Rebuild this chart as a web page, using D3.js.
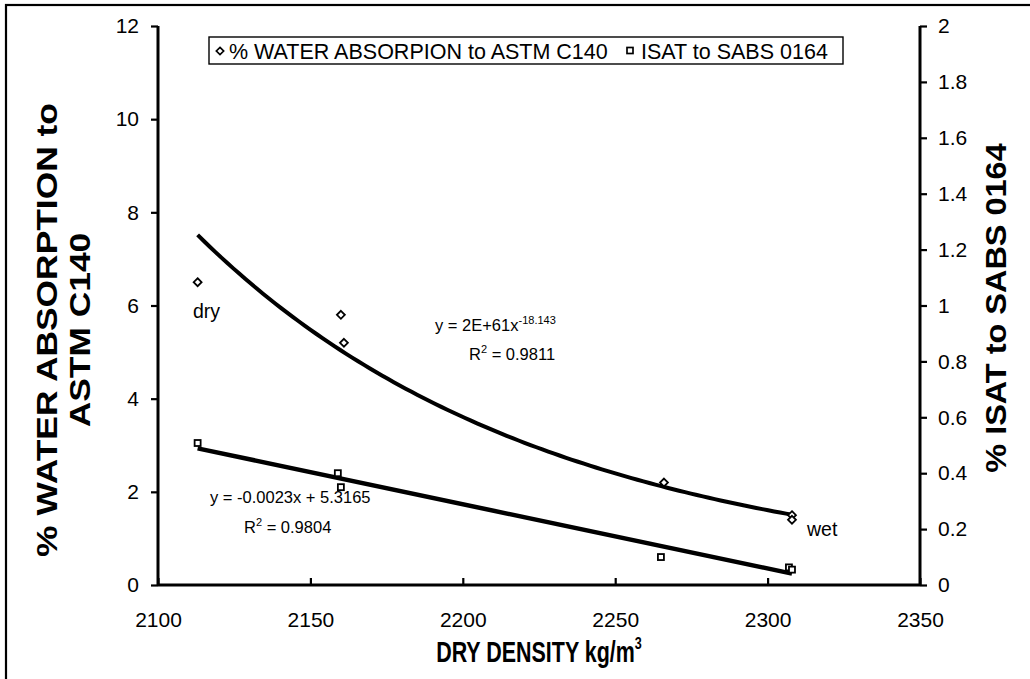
<!DOCTYPE html>
<html>
<head>
<meta charset="utf-8">
<script src="https://cdn.jsdelivr.net/npm/d3@7"></script>
<style>
  html, body { margin: 0; padding: 0; background: #fff; }
  svg { display: block; font-family: "Liberation Sans", Arial, sans-serif; }
</style>
</head>
<body>
<svg id="chart" width="1030" height="679"></svg>
<script>
// Dry density (kg/m3) of each sample
const densityAbs = [2113, 2160, 2161, 2266, 2308, 2308];
// % water absorption to ASTM C140 (left axis)
const waterAbsorption = [6.5, 5.8, 5.2, 2.2, 1.5, 1.4];
// Dry density for the ISAT samples
const densityIsat = [2113, 2159, 2160, 2265, 2307, 2308];
// ISAT to SABS 0164 (right axis)
const isat = [0.508, 0.40, 0.35, 0.10, 0.063, 0.055];

const xTicks = [2100, 2150, 2200, 2250, 2300, 2350];
const yLeftTicks = [0, 2, 4, 6, 8, 10, 12];
const yRightTicks = [0, 0.2, 0.4, 0.6, 0.8, 1, 1.2, 1.4, 1.6, 1.8, 2];

const legendLabels = ["% WATER ABSORPION to ASTM C140", "ISAT to SABS 0164"];
const powerEqText = ["y = 2E+61x", "-18.143"];
const powerR2 = "0.9811";
const linearEqText = "y = -0.0023x + 5.3165";
const linearR2 = "0.9804";

const svg = d3.select("#chart");
const plot = { left: 158, right: 920, top: 26, bottom: 585 };

const x = d3.scaleLinear().domain([2100, 2350]).range([plot.left, plot.right]);
const yL = d3.scaleLinear().domain([0, 12]).range([plot.bottom, plot.top]);
const yR = d3.scaleLinear().domain([0, 2]).range([plot.bottom, plot.top]);

// Outer frame (left and top edges visible)
svg.append("rect")
  .attr("x", 6).attr("y", 5).attr("width", 1040).attr("height", 700)
  .attr("fill", "none").attr("stroke", "#000").attr("stroke-width", 2.2);

// Least-squares fits (power fit on the absorption data, linear fit on ISAT)
function linFit(xs, ys) {
  const n = xs.length, mx = d3.mean(xs), my = d3.mean(ys);
  let sxy = 0, sxx = 0;
  for (let i = 0; i < n; i++) { sxy += (xs[i] - mx) * (ys[i] - my); sxx += (xs[i] - mx) ** 2; }
  const b = sxy / sxx;
  return { slope: b, intercept: my - b * mx };
}
const pf = linFit(densityAbs.map(Math.log), waterAbsorption.map(Math.log));
const powerFn = v => Math.exp(pf.intercept) * Math.pow(v, pf.slope);
const lf = linFit(densityIsat, isat);
const linFn = v => lf.intercept + lf.slope * v;

const xMin = d3.min(densityAbs), xMax = d3.max(densityAbs);
const curveXs = d3.range(0, 101).map(i => xMin + (xMax - xMin) * i / 100);

svg.append("path")
  .datum(curveXs)
  .attr("fill", "none").attr("stroke", "#000").attr("stroke-width", 4)
  .attr("d", d3.line().x(d => x(d)).y(d => yL(powerFn(d))));

const lxMin = d3.min(densityIsat), lxMax = d3.max(densityIsat);
svg.append("path")
  .datum([lxMin, lxMax])
  .attr("fill", "none").attr("stroke", "#000").attr("stroke-width", 4.5)
  .attr("d", d3.line().x(d => x(d)).y(d => yR(linFn(d))));

// Markers
const diamond = d3.symbol().type(d3.symbolDiamond2).size(40);
svg.append("g").selectAll("path")
  .data(densityAbs.map((d, i) => [d, waterAbsorption[i]]))
  .join("path")
  .attr("d", diamond)
  .attr("transform", d => `translate(${x(d[0])},${yL(d[1])})`)
  .attr("fill", "#fff").attr("stroke", "#000").attr("stroke-width", 1.8);

svg.append("g").selectAll("rect")
  .data(densityIsat.map((d, i) => [d, isat[i]]))
  .join("rect")
  .attr("x", d => x(d[0]) - 3).attr("y", d => yR(d[1]) - 3)
  .attr("width", 6).attr("height", 6)
  .attr("fill", "#fff").attr("stroke", "#000").attr("stroke-width", 1.8);

// Axes
const axisFont = "21px";
const gx = svg.append("g").attr("transform", `translate(0,${plot.bottom})`)
  .call(d3.axisBottom(x).tickValues(xTicks).tickFormat(d3.format("d")).tickSize(-7).tickPadding(27));
const gl = svg.append("g").attr("transform", `translate(${plot.left},0)`)
  .call(d3.axisLeft(yL).tickValues(yLeftTicks).tickSize(7).tickPadding(12));
const gr = svg.append("g").attr("transform", `translate(${plot.right},0)`)
  .call(d3.axisRight(yR).tickValues(yRightTicks).tickFormat(d => d3.format("~g")(d)).tickSize(7).tickPadding(11));

[gx, gl, gr].forEach(g => {
  g.select(".domain").attr("stroke", "#000").attr("stroke-width", 3);
  g.selectAll(".tick line").attr("stroke", "#000").attr("stroke-width", 2.2);
  g.selectAll("text").attr("font-size", axisFont).attr("fill", "#000")
    .attr("font-family", "'Liberation Sans', Arial, sans-serif");
});
gx.select(".domain").attr("d", `M${plot.left},0H${plot.right}`);
gl.select(".domain").attr("d", `M0,${plot.top}V${plot.bottom}`);
gr.select(".domain").attr("d", `M0,${plot.top}V${plot.bottom}`);

// Axis titles (bold, drawn slightly narrow/tall)
const xTitle = svg.append("text")
  .attr("transform", `translate(${(plot.left + plot.right) / 2},662) scale(0.74,1)`)
  .attr("text-anchor", "middle").attr("font-size", "29px").attr("font-weight", "bold");
xTitle.append("tspan").text("DRY DENSITY  kg/m");
xTitle.append("tspan").attr("font-size", "17px").attr("dy", -13).text("3");

const leftTitle = svg.append("text")
  .attr("transform", "translate(57,330) rotate(-90) scale(1.22,1)")
  .attr("text-anchor", "middle").attr("font-size", "29px").attr("font-weight", "bold");
leftTitle.append("tspan").attr("x", 0).attr("y", 0).text("% WATER  ABSORPTION  to");
leftTitle.append("tspan").attr("x", 0).attr("y", 33).text("ASTM C140");

svg.append("text")
  .attr("transform", "translate(1006,308) rotate(-90) scale(1.12,1)")
  .attr("text-anchor", "middle").attr("font-size", "29px").attr("font-weight", "bold")
  .text("% ISAT to SABS 0164");

// Legend
const legend = svg.append("g");
legend.append("rect")
  .attr("x", 209).attr("y", 37).attr("width", 634).attr("height", 27)
  .attr("fill", "#fff").attr("stroke", "#000").attr("stroke-width", 1.4);
legend.append("path").attr("d", d3.symbol().type(d3.symbolDiamond2).size(34))
  .attr("transform", "translate(220,51)")
  .attr("fill", "#fff").attr("stroke", "#000").attr("stroke-width", 1.7);
legend.append("text").attr("x", 229).attr("y", 58.5).attr("font-size", "21.5px").text(legendLabels[0]);
legend.append("rect").attr("x", 627).attr("y", 47.5).attr("width", 6).attr("height", 6)
  .attr("fill", "#fff").attr("stroke", "#000").attr("stroke-width", 1.7);
legend.append("text").attr("x", 641).attr("y", 58.5).attr("font-size", "21.5px").text(legendLabels[1]);

// Trendline equations and point annotations
const eqFont = "16.5px";
const eq1 = svg.append("text").attr("x", 435).attr("y", 331).attr("font-size", eqFont);
eq1.append("tspan").text(powerEqText[0]);
eq1.append("tspan").attr("font-size", "11px").attr("dy", -7).text(powerEqText[1]);
const r1 = svg.append("text").attr("x", 469).attr("y", 360).attr("font-size", eqFont);
r1.append("tspan").text("R");
r1.append("tspan").attr("font-size", "11px").attr("dy", -7).text("2");
r1.append("tspan").attr("dy", 7).text(" = " + powerR2);

svg.append("text").attr("x", 210).attr("y", 503).attr("font-size", eqFont).text(linearEqText);
const r2 = svg.append("text").attr("x", 244).attr("y", 533).attr("font-size", eqFont);
r2.append("tspan").text("R");
r2.append("tspan").attr("font-size", "11px").attr("dy", -7).text("2");
r2.append("tspan").attr("dy", 7).text(" = " + linearR2);

svg.append("text").attr("x", 193).attr("y", 318).attr("font-size", "19.5px").text("dry");
svg.append("text").attr("x", 807).attr("y", 536).attr("font-size", "19.5px").text("wet");
</script>
</body>
</html>
